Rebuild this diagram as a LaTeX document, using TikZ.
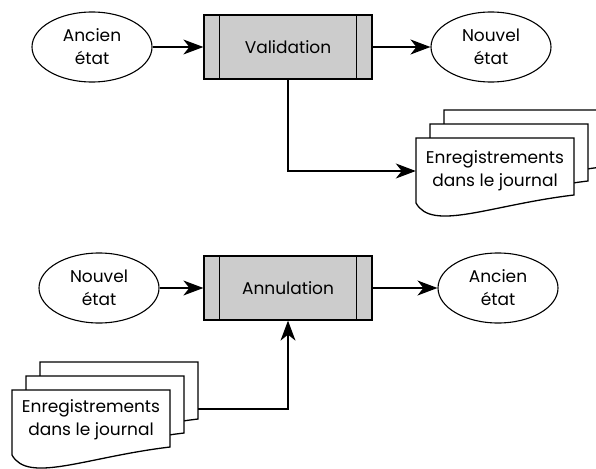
\documentclass[tikz,border=0pt]{standalone}
\usepackage{fontspec}
\setmainfont{Poppins}
\usetikzlibrary{arrows.meta,shapes.geometric,calc}

\definecolor{procgray}{HTML}{CCCCCC}

\tikzset{
  label font/.style={font=\fontsize{17}{23}\selectfont},
  state/.style={ellipse, draw, line width=1.1pt, fill=white,
    minimum width=120pt, minimum height=70pt, inner sep=0pt,
    align=center, label font},
  process/.style={rectangle, draw, line width=1.3pt, fill=procgray,
    minimum width=168pt, minimum height=64pt, inner sep=0pt,
    label font},
  bar/.style={line width=1.3pt},
  flow/.style={line width=1.1pt,
    -{Stealth[length=20pt,width=15pt,inset=6pt]}},
  sheet/.style={draw, line width=1.3pt, fill=white},
  logtext/.style={align=center, minimum width=158pt, inner sep=0pt,
    label font},
  docsheet/.pic={
    \path[sheet] (0,0) -- (158,0) -- (158,57)
      .. controls (74,67) and (16,94) .. (0,65) -- cycle;
  }
}

\begin{document}
\begin{tikzpicture}[x=1pt,y=-1pt]
\useasboundingbox (0,0) rectangle (596,468);
\clip (0,0) rectangle (596,468);

% ---------- commit: old state -> validation -> new state ----------
\node[state]   (oldA)  at (92,47)  {Ancien\\état};
\node[process] (valid) at (288,47) {Validation};
\node[state]   (newA)  at (491,47) {Nouvel\\état};

% journal stack written by the validation
\pic at (444,110) {docsheet};
\pic at (430,124) {docsheet};
\pic at (416,138) {docsheet};
\node[logtext] (logA) at (495,171) {Enregistrements\\dans le journal};

\draw[flow] (oldA) -- (valid);
\draw[flow] (valid) -- (newA);
\draw[flow] (valid.south) |- (logA.west);

% ---------- rollback: new state -> annulation -> old state ----------
\node[state]   (newB)  at (99,288)  {Nouvel\\état};
\node[process] (undo)  at (288,288) {Annulation};
\node[state]   (oldB)  at (498,288) {Ancien\\état};

% journal stack read by the rollback
\pic at (40,362) {docsheet};
\pic at (26,376) {docsheet};
\pic at (12,390) {docsheet};
\node[logtext] (logB) at (91,420) {Enregistrements\\dans le journal};
\coordinate (logBout) at (198,409);

\draw[flow] (newB) -- (undo);
\draw[flow] (undo) -- (oldB);
\draw[flow] (logBout) -| (undo.south);

% side bars of the two process boxes
\foreach \b in {valid,undo} {
  \draw[bar] ($(\b.north west)+(16,0)$) -- ($(\b.south west)+(16,0)$);
  \draw[bar] ($(\b.north east)+(-16,0)$) -- ($(\b.south east)+(-16,0)$);
}
\end{tikzpicture}
\end{document}
